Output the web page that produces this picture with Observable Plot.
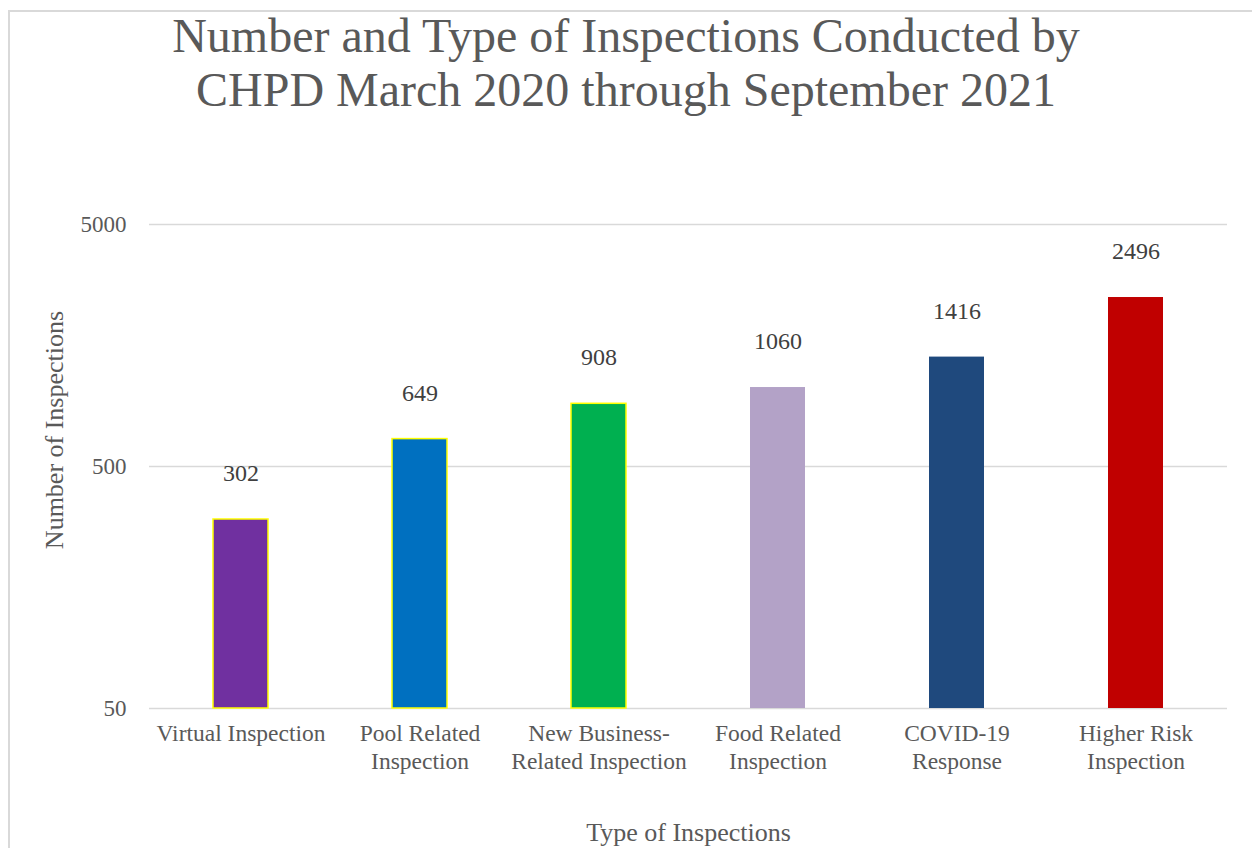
<!DOCTYPE html>
<html>
<head>
<meta charset="utf-8">
<script src="https://cdn.jsdelivr.net/npm/d3@7"></script>
<script src="https://cdn.jsdelivr.net/npm/@observablehq/plot@0.6"></script>
<style>
  html, body { margin: 0; padding: 0; background: #fff; }
  body { width: 1252px; height: 848px; overflow: hidden; position: relative; font-family: "Liberation Serif", "Times New Roman", serif; }
  #frame { position: absolute; left: 8px; top: 10px; width: 1260px; height: 860px; border: 2px solid #d9d9d9; box-sizing: border-box; }
  #title { position: absolute; left: 0; top: 9px; width: 1252px; text-align: center; font-size: 48px; line-height: 54px; color: #595959; }
  #ytitle { position: absolute; left: 55px; top: 430px; transform: translate(-50%, -50%) rotate(-90deg); white-space: nowrap; font-size: 26px; color: #595959; }
  #chart { position: absolute; left: 0; top: 125px; }
</style>
</head>
<body>
<div id="frame"></div>
<div id="title">Number and Type of Inspections Conducted by<br>CHPD March 2020 through September 2021</div>
<div id="chart"></div>
<div id="ytitle">Number of Inspections</div>
<script>
const categories = ["Virtual Inspection", "Pool Related Inspection", "New Business-Related Inspection", "Food Related Inspection", "COVID-19 Response", "Higher Risk Inspection"];
const tickLabels = ["Virtual Inspection", "Pool Related\nInspection", "New Business-\nRelated Inspection", "Food Related\nInspection", "COVID-19\nResponse", "Higher Risk\nInspection"];
const values = [302, 649, 908, 1060, 1416, 2496];
const yTicks = [50, 500, 5000];
const fillColors = ["#7030A0", "#0070C0", "#00B050", "#B3A2C7", "#1F497D", "#C00000"];
const strokeColors = ["#FFFF00", "#FFFF00", "#FFFF00", "none", "none", "none"];

const data = categories.map((c, i) => ({category: c, value: values[i], fill: fillColors[i], stroke: strokeColors[i]}));
const labelOf = new Map(categories.map((c, i) => [c, tickLabels[i]]));

const chart = Plot.plot({
  width: 1252,
  height: 723,
  marginTop: 99,
  marginBottom: 140,
  marginLeft: 149,
  marginRight: 25,
  style: {fontFamily: "'Liberation Serif', 'Times New Roman', serif", fontSize: "23px", color: "#595959", background: "transparent"},
  x: {domain: categories, paddingInner: 0.69, paddingOuter: 0.345, label: null},
  y: {type: "log", domain: [yTicks[0], yTicks[yTicks.length - 1]], ticks: yTicks, label: null},
  marks: [
    Plot.ruleY(yTicks, {stroke: "#d9d9d9", strokeWidth: 1.5}),
    Plot.barY(data, {x: "category", y1: () => yTicks[0], y2: "value", fill: "fill", stroke: "stroke", strokeWidth: 1.5, inset: 0}),
    Plot.text(data, {x: "category", y: "value", text: d => String(d.value), dy: -46, fill: "#404040", fontSize: 24}),
    Plot.axisY({ticks: yTicks, tickSize: 0, tickPadding: 23, tickFormat: d => String(d), fontSize: 23, fill: "#595959", label: null}),
    Plot.axisX({tickSize: 0, tickPadding: 12, tickFormat: d => labelOf.get(d), fontSize: 23.5, lineHeight: 1.2, fill: "#595959",
      label: "Type of Inspections", labelAnchor: "center", labelArrow: "none", labelOffset: 132})
  ]
});
document.getElementById("chart").appendChild(chart);
// axis title font size
chart.querySelectorAll("g[aria-label='x-axis label'] text").forEach(t => t.setAttribute("font-size", "26"));
</script>
</body>
</html>
